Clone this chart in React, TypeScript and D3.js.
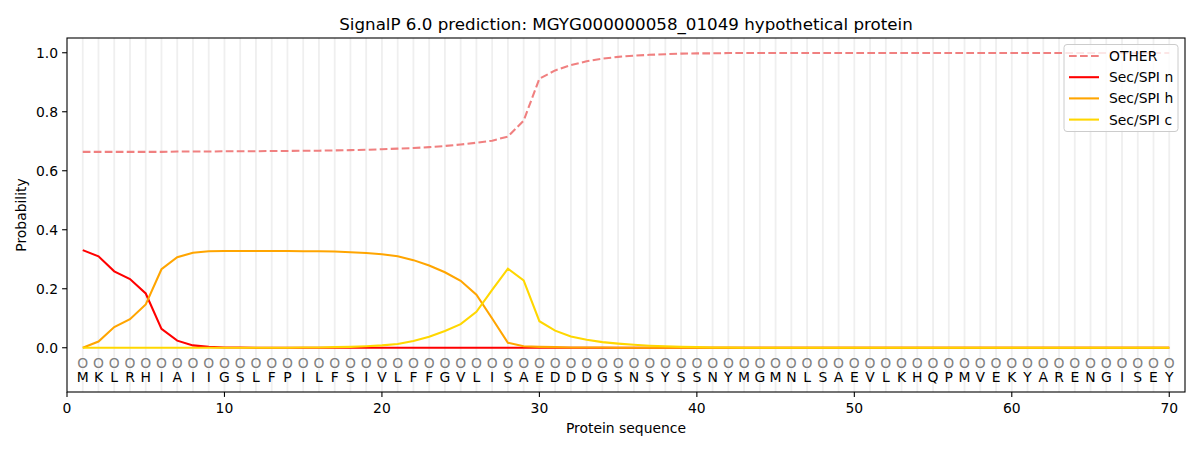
import React from "react";
import * as d3 from "d3";

const sequence = "MKLRHIAIIGSLFPILFSIVLFFGVLISAEDDDGSNSYSSNYMGMNLSAEVLKHQPMVEKYARENGISEY".split("");

const otherProb = [
  0.664, 0.664, 0.664, 0.664, 0.664, 0.664, 0.665, 0.665, 0.665, 0.666,
  0.666, 0.666, 0.667, 0.667, 0.668, 0.668, 0.669, 0.670, 0.671, 0.673,
  0.675, 0.677, 0.680, 0.684, 0.689, 0.695, 0.702, 0.716, 0.770, 0.912,
  0.940, 0.958, 0.971, 0.980, 0.986, 0.990, 0.993, 0.995, 0.997, 0.998,
  0.998, 0.999, 0.999, 0.999, 0.999, 0.999, 0.999, 0.999, 0.999, 0.999,
  0.999, 0.999, 0.999, 0.999, 0.999, 0.999, 0.999, 0.999, 0.999, 0.999,
  0.999, 0.999, 0.999, 0.999, 0.999, 0.999, 0.999, 0.999, 0.999, 0.999,
];

const secN = [
  0.331, 0.310, 0.259, 0.233, 0.184, 0.064, 0.024, 0.008, 0.003, 0.001,
  0.001, 0, 0, 0, 0, 0, 0, 0, 0, 0,
  0, 0, 0, 0, 0, 0, 0, 0, 0, 0,
  0, 0, 0, 0, 0, 0, 0, 0, 0, 0,
  0, 0, 0, 0, 0, 0, 0, 0, 0, 0,
  0, 0, 0, 0, 0, 0, 0, 0, 0, 0,
  0, 0, 0, 0, 0, 0, 0, 0, 0, 0,
];

const secH = [
  0.000, 0.021, 0.070, 0.097, 0.147, 0.266, 0.307, 0.322, 0.327, 0.328,
  0.328, 0.328, 0.328, 0.328, 0.327, 0.327, 0.326, 0.324, 0.321, 0.317,
  0.310, 0.297, 0.279, 0.256, 0.227, 0.180, 0.099, 0.017, 0.005, 0.003,
  0.002, 0.001, 0.001, 0.001, 0, 0, 0, 0, 0, 0,
  0, 0, 0, 0, 0, 0, 0, 0, 0, 0,
  0, 0, 0, 0, 0, 0, 0, 0, 0, 0,
  0, 0, 0, 0, 0, 0, 0, 0, 0, 0,
];

const secC = [
  0, 0, 0, 0, 0, 0, 0, 0, 0, 0,
  0, 0, 0, 0, 0.001, 0.001, 0.002, 0.003, 0.005, 0.008,
  0.013, 0.023, 0.037, 0.057, 0.080, 0.122, 0.196, 0.268, 0.228, 0.090,
  0.058, 0.038, 0.027, 0.019, 0.014, 0.010, 0.007, 0.005, 0.003, 0.002,
  0.001, 0.001, 0, 0, 0, 0, 0, 0, 0, 0,
  0, 0, 0, 0, 0, 0, 0, 0, 0, 0,
  0, 0, 0, 0, 0, 0, 0, 0, 0, 0,
];

const xTicks = [0, 10, 20, 30, 40, 50, 60, 70];
const yTicks = [0, 0.2, 0.4, 0.6, 0.8, 1.0];

const seriesDefs = [
  { name: "OTHER", values: otherProb, color: "#f08080", dash: "7.7,3.3" },
  { name: "Sec/SPI n", values: secN, color: "#ff0000", dash: null },
  { name: "Sec/SPI h", values: secH, color: "#ffa500", dash: null },
  { name: "Sec/SPI c", values: secC, color: "#ffd700", dash: null },
];

const W = 1200;
const H = 450;
const left = 67;
const right = 1185;
const top = 38;
const bottom = 392;
const font = "DejaVu Sans, sans-serif";
const fs = 13.9;

export default function App() {
  const x = d3.scaleLinear().domain([0, 71]).range([left, right]);
  const y = d3.scaleLinear().domain([-0.15, 1.05]).range([bottom, top]);
  const positions = sequence.map((_, i) => i + 1);
  const line = d3
    .line<number>()
    .x((_, i) => x(i + 1))
    .y((d) => y(d));

  return (
    <svg
      width={W}
      height={H}
      style={{ position: "absolute", left: 0, top: 0, background: "#fff" }}
      fontFamily={font}
    >
      <rect x={0} y={0} width={W} height={H} fill="#fff" />
      <text x={(left + right) / 2} y={29.5} textAnchor="middle" fontSize={16.7} fill="#000">
        SignalP 6.0 prediction: MGYG000000058_01049 hypothetical protein
      </text>
      {positions.map((p) => (
        <line key={"g" + p} x1={x(p)} x2={x(p)} y1={top} y2={bottom} stroke="#efefef" strokeWidth={1.8} />
      ))}
      {seriesDefs.map((s) => (
        <path
          key={s.name}
          d={line(s.values) || ""}
          fill="none"
          stroke={s.color}
          strokeWidth={2.08}
          strokeDasharray={s.dash || undefined}
        />
      ))}
      {positions.map((p, i) => (
        <g key={"s" + p}>
          <text x={x(p)} y={y(-0.05) + 5.2} textAnchor="middle" fontSize={fs} fill="#808080">
            O
          </text>
          <text x={x(p)} y={y(-0.1) + 5.2} textAnchor="middle" fontSize={fs} fill="#000">
            {sequence[i]}
          </text>
        </g>
      ))}
      <rect x={left} y={top} width={right - left} height={bottom - top} fill="none" stroke="#000" strokeWidth={1.1} />
      {xTicks.map((t) => (
        <g key={"xt" + t}>
          <line x1={x(t)} x2={x(t)} y1={bottom} y2={bottom + 4.9} stroke="#000" strokeWidth={1.1} />
          <text x={x(t)} y={bottom + 20.5} textAnchor="middle" fontSize={fs} fill="#000">
            {t}
          </text>
        </g>
      ))}
      {yTicks.map((t) => (
        <g key={"yt" + t}>
          <line x1={left - 4.9} x2={left} y1={y(t)} y2={y(t)} stroke="#000" strokeWidth={1.1} />
          <text x={left - 9} y={y(t) + 5} textAnchor="end" fontSize={fs} fill="#000">
            {t.toFixed(1)}
          </text>
        </g>
      ))}
      <text x={(left + right) / 2} y={432.5} textAnchor="middle" fontSize={fs} fill="#000">
        Protein sequence
      </text>
      <text
        transform={`translate(26, ${(top + bottom) / 2}) rotate(-90)`}
        textAnchor="middle"
        fontSize={fs}
        fill="#000"
      >
        Probability
      </text>
      <g>
        <rect x={1064} y={44.5} width={114} height={87} rx={3} fill="#fff" fillOpacity={0.8} stroke="#cccccc" strokeWidth={1} />
        {seriesDefs.map((s, i) => {
          const ly = 56 + i * 21.2;
          return (
            <g key={"lg" + s.name}>
              <line
                x1={1069}
                x2={1099}
                y1={ly}
                y2={ly}
                stroke={s.color}
                strokeWidth={2.08}
                strokeDasharray={s.dash || undefined}
              />
              <text x={1109} y={ly + 5} fontSize={fs} fill="#000">
                {s.name}
              </text>
            </g>
          );
        })}
      </g>
    </svg>
  );
}
